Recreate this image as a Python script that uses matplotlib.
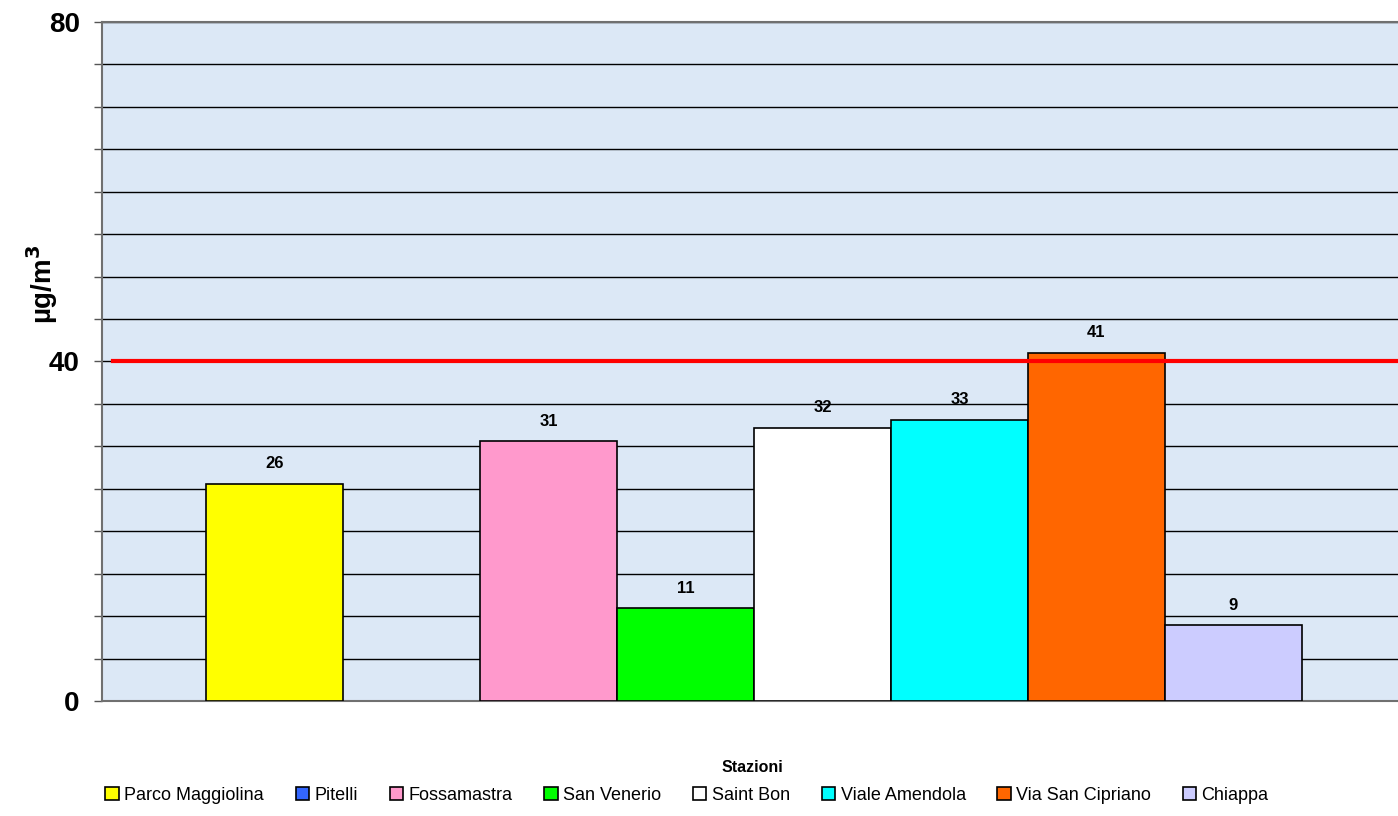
import matplotlib
matplotlib.use("Agg")
import matplotlib.pyplot as plt
from matplotlib.patches import Patch
from matplotlib.ticker import MultipleLocator, FuncFormatter

stations = ["Parco Maggiolina", "Pitelli", "Fossamastra", "San Venerio",
            "Saint Bon", "Viale Amendola", "Via San Cipriano", "Chiappa"]
values = [25.6, None, 30.6, 10.9, 32.2, 33.1, 41.0, 8.9]
labels = ["26", "", "31", "11", "32", "33", "41", "9"]
colors = ["#ffff00", "#3366ff", "#ff99cc", "#00ff00", "#ffffff",
          "#00ffff", "#ff6600", "#ccccff"]
limit_value = 40
y_labelled = [0, 40, 80]

plt.rcParams['font.family'] = ['Liberation Sans', 'DejaVu Sans']

fig = plt.figure(figsize=(13.98, 8.16), dpi=100)
ax = fig.add_axes([102/1398, 1 - 701/816, 1296/1398, 679/816])
ax.set_facecolor("#dce8f6")

w = 137/1296
for i, (v, c) in enumerate(zip(values, colors)):
    x = (i - 3.5) * w + 0.003
    if v is None:
        continue
    ax.bar(x, v, width=w, color=c, edgecolor="black", linewidth=1.2, zorder=3)
    ax.text(x, v + 1.5, labels[i], ha="center", va="bottom",
            fontsize=12, fontweight="bold", zorder=5)

ax.axhline(limit_value, xmin=11/1296, xmax=1, color="#ff0000", lw=3, zorder=4)

ax.set_xlim(-0.5, 0.5)
ax.set_ylim(0, 80)
ax.set_xticks([])
ax.yaxis.set_major_locator(MultipleLocator(5))
ax.yaxis.set_major_formatter(FuncFormatter(
    lambda v, p: f"{int(v)}" if int(round(v)) in y_labelled else ""))
ax.tick_params(axis="y", length=6, width=1, color="#555555", labelsize=20,
               pad=10)
for lab in ax.get_yticklabels():
    lab.set_fontweight("bold")
ax.grid(axis="y", color="black", linewidth=1, zorder=1)
ax.set_axisbelow(True)
for s in ["left", "top", "bottom"]:
    ax.spines[s].set_color("#707070")
    ax.spines[s].set_linewidth(1.5)
ax.spines["right"].set_visible(False)

fig.text(42/1398, 1 - 284/816, "µg/m$^\\mathbf{3}$", rotation=90,
         ha="center", va="center", fontsize=20, fontweight="bold")
fig.text(752/1398, 1 - 768/816, "Stazioni", ha="center", va="center",
         fontsize=11.5, fontweight="bold")

handles = [Patch(facecolor=c, edgecolor="black", linewidth=1.2) for c in colors]
leg = fig.legend(handles, stations, loc="center", ncol=8,
                 bbox_to_anchor=(687/1398, 1 - 795/816), frameon=False,
                 fontsize=13, handlelength=0.75, handleheight=0.75,
                 handletextpad=0.3, columnspacing=1.75)

fig.savefig("out.png", dpi=100)
